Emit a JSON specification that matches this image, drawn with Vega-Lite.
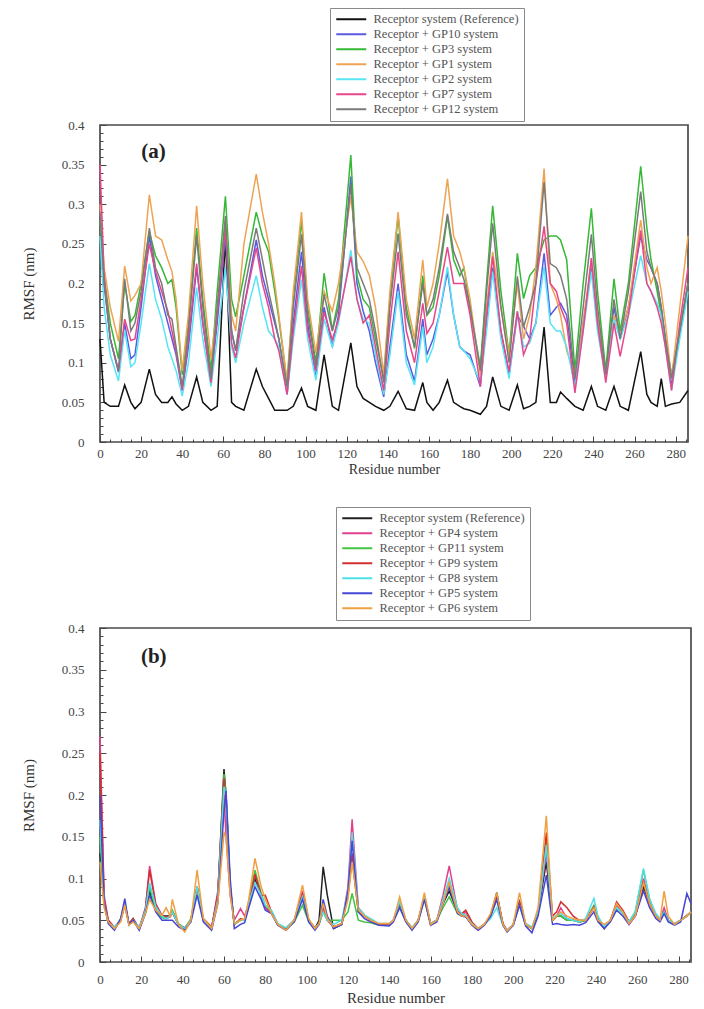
{
  "$schema": "https://vega.github.io/schema/vega-lite/v6.json",
  "background": "white",
  "padding": {"left": 20, "top": 6, "right": 4, "bottom": 2},
  "spacing": 28,
  "config": {
    "view": {"stroke": "#4a4a4a", "strokeWidth": 1.7},
    "axis": {"domain": false, "grid": false, "tickColor": "#444", "tickWidth": 1, "labelFont": "Liberation Serif", "labelFontSize": 13, "labelColor": "#444", "labelFlush": false, "labelOverlap": false, "titleFont": "Liberation Serif", "titleFontSize": 15, "titleFontWeight": "normal", "titleColor": "#333"},
    "legend": {"orient": "none", "title": null, "padding": 5, "strokeColor": "#8a8a8a", "fillColor": "white", "symbolType": "M-3,0H3", "symbolSize": 100, "symbolStrokeWidth": 2, "symbolOffset": 10, "labelOffset": 16, "labelFont": "Liberation Serif", "labelFontSize": 12.5, "labelColor": "#555", "labelLimit": 0, "rowPadding": 2}
  },
  "datasets": {
    "a": [
      {"r":0,"ref":0.13,"g10":0.30,"g3":0.28,"g1":0.30,"g2":0.26,"g7":0.35,"g12":0.29},
      {"r":2,"ref":0.05,"g10":0.20,"g3":0.21,"g1":0.22,"g2":0.17,"g7":0.21,"g12":0.20},
      {"r":5,"ref":0.045,"g10":0.13,"g3":0.15,"g1":0.17,"g2":0.11,"g7":0.13,"g12":0.13},
      {"r":9,"ref":0.045,"g10":0.088,"g3":0.105,"g1":0.127,"g2":0.077,"g7":0.09,"g12":0.09},
      {"r":12,"ref":0.072,"g10":0.15,"g3":0.20,"g1":0.222,"g2":0.141,"g7":0.155,"g12":0.206},
      {"r":15,"ref":0.05,"g10":0.105,"g3":0.152,"g1":0.178,"g2":0.095,"g7":0.128,"g12":0.14},
      {"r":17,"ref":0.042,"g10":0.11,"g3":0.16,"g1":0.185,"g2":0.10,"g7":0.13,"g12":0.15},
      {"r":20,"ref":0.05,"g10":0.17,"g3":0.20,"g1":0.20,"g2":0.15,"g7":0.18,"g12":0.19},
      {"r":24,"ref":0.092,"g10":0.26,"g3":0.265,"g1":0.312,"g2":0.225,"g7":0.25,"g12":0.27},
      {"r":27,"ref":0.06,"g10":0.21,"g3":0.235,"g1":0.26,"g2":0.18,"g7":0.215,"g12":0.22},
      {"r":30,"ref":0.05,"g10":0.18,"g3":0.22,"g1":0.255,"g2":0.155,"g7":0.19,"g12":0.20},
      {"r":33,"ref":0.05,"g10":0.15,"g3":0.20,"g1":0.23,"g2":0.12,"g7":0.165,"g12":0.16},
      {"r":35,"ref":0.057,"g10":0.13,"g3":0.205,"g1":0.215,"g2":0.105,"g7":0.14,"g12":0.155},
      {"r":37,"ref":0.048,"g10":0.11,"g3":0.17,"g1":0.18,"g2":0.09,"g7":0.115,"g12":0.12},
      {"r":40,"ref":0.04,"g10":0.065,"g3":0.085,"g1":0.09,"g2":0.058,"g7":0.065,"g12":0.07},
      {"r":43,"ref":0.045,"g10":0.12,"g3":0.15,"g1":0.16,"g2":0.10,"g7":0.13,"g12":0.14},
      {"r":47,"ref":0.082,"g10":0.22,"g3":0.27,"g1":0.298,"g2":0.195,"g7":0.225,"g12":0.26},
      {"r":50,"ref":0.05,"g10":0.15,"g3":0.18,"g1":0.20,"g2":0.13,"g7":0.15,"g12":0.17},
      {"r":54,"ref":0.04,"g10":0.078,"g3":0.09,"g1":0.105,"g2":0.07,"g7":0.075,"g12":0.08},
      {"r":57,"ref":0.045,"g10":0.15,"g3":0.19,"g1":0.17,"g2":0.13,"g7":0.16,"g12":0.17},
      {"r":61,"ref":0.26,"g10":0.26,"g3":0.31,"g1":0.28,"g2":0.22,"g7":0.27,"g12":0.285},
      {"r":64,"ref":0.05,"g10":0.14,"g3":0.18,"g1":0.16,"g2":0.12,"g7":0.125,"g12":0.14},
      {"r":66,"ref":0.045,"g10":0.115,"g3":0.158,"g1":0.14,"g2":0.10,"g7":0.106,"g12":0.116},
      {"r":70,"ref":0.04,"g10":0.17,"g3":0.21,"g1":0.25,"g2":0.15,"g7":0.17,"g12":0.19},
      {"r":76,"ref":0.092,"g10":0.255,"g3":0.29,"g1":0.338,"g2":0.21,"g7":0.245,"g12":0.27},
      {"r":79,"ref":0.07,"g10":0.21,"g3":0.26,"g1":0.29,"g2":0.17,"g7":0.20,"g12":0.23},
      {"r":82,"ref":0.055,"g10":0.18,"g3":0.24,"g1":0.25,"g2":0.14,"g7":0.17,"g12":0.19},
      {"r":85,"ref":0.04,"g10":0.15,"g3":0.19,"g1":0.20,"g2":0.13,"g7":0.13,"g12":0.155},
      {"r":87,"ref":0.04,"g10":0.13,"g3":0.155,"g1":0.16,"g2":0.12,"g7":0.115,"g12":0.13},
      {"r":91,"ref":0.04,"g10":0.06,"g3":0.075,"g1":0.075,"g2":0.06,"g7":0.06,"g12":0.07},
      {"r":94,"ref":0.045,"g10":0.15,"g3":0.18,"g1":0.19,"g2":0.13,"g7":0.14,"g12":0.17},
      {"r":98,"ref":0.068,"g10":0.24,"g3":0.28,"g1":0.29,"g2":0.205,"g7":0.222,"g12":0.262},
      {"r":101,"ref":0.045,"g10":0.15,"g3":0.17,"g1":0.18,"g2":0.13,"g7":0.14,"g12":0.16},
      {"r":105,"ref":0.04,"g10":0.08,"g3":0.10,"g1":0.112,"g2":0.078,"g7":0.09,"g12":0.095},
      {"r":109,"ref":0.11,"g10":0.17,"g3":0.213,"g1":0.19,"g2":0.155,"g7":0.164,"g12":0.186},
      {"r":113,"ref":0.045,"g10":0.12,"g3":0.141,"g1":0.165,"g2":0.12,"g7":0.129,"g12":0.14},
      {"r":116,"ref":0.04,"g10":0.16,"g3":0.18,"g1":0.20,"g2":0.15,"g7":0.155,"g12":0.17},
      {"r":122,"ref":0.125,"g10":0.335,"g3":0.362,"g1":0.31,"g2":0.242,"g7":0.234,"g12":0.325},
      {"r":125,"ref":0.07,"g10":0.20,"g3":0.21,"g1":0.24,"g2":0.18,"g7":0.18,"g12":0.22},
      {"r":128,"ref":0.055,"g10":0.165,"g3":0.18,"g1":0.228,"g2":0.155,"g7":0.15,"g12":0.20},
      {"r":131,"ref":0.05,"g10":0.14,"g3":0.17,"g1":0.21,"g2":0.15,"g7":0.16,"g12":0.18},
      {"r":134,"ref":0.045,"g10":0.10,"g3":0.13,"g1":0.17,"g2":0.11,"g7":0.12,"g12":0.14},
      {"r":138,"ref":0.04,"g10":0.057,"g3":0.08,"g1":0.085,"g2":0.06,"g7":0.065,"g12":0.075},
      {"r":141,"ref":0.045,"g10":0.12,"g3":0.18,"g1":0.19,"g2":0.11,"g7":0.15,"g12":0.17},
      {"r":145,"ref":0.064,"g10":0.20,"g3":0.285,"g1":0.29,"g2":0.19,"g7":0.24,"g12":0.263},
      {"r":149,"ref":0.042,"g10":0.11,"g3":0.17,"g1":0.18,"g2":0.10,"g7":0.14,"g12":0.16},
      {"r":153,"ref":0.04,"g10":0.077,"g3":0.118,"g1":0.13,"g2":0.072,"g7":0.10,"g12":0.12},
      {"r":157,"ref":0.075,"g10":0.155,"g3":0.21,"g1":0.23,"g2":0.145,"g7":0.175,"g12":0.20},
      {"r":159,"ref":0.05,"g10":0.11,"g3":0.16,"g1":0.17,"g2":0.10,"g7":0.137,"g12":0.16},
      {"r":162,"ref":0.04,"g10":0.13,"g3":0.17,"g1":0.20,"g2":0.12,"g7":0.15,"g12":0.18},
      {"r":165,"ref":0.05,"g10":0.16,"g3":0.21,"g1":0.25,"g2":0.16,"g7":0.19,"g12":0.22},
      {"r":169,"ref":0.078,"g10":0.215,"g3":0.285,"g1":0.332,"g2":0.221,"g7":0.246,"g12":0.288},
      {"r":172,"ref":0.05,"g10":0.16,"g3":0.23,"g1":0.26,"g2":0.16,"g7":0.20,"g12":0.24},
      {"r":175,"ref":0.045,"g10":0.12,"g3":0.21,"g1":0.24,"g2":0.12,"g7":0.20,"g12":0.22},
      {"r":177,"ref":0.042,"g10":0.115,"g3":0.22,"g1":0.22,"g2":0.115,"g7":0.20,"g12":0.205},
      {"r":180,"ref":0.04,"g10":0.11,"g3":0.17,"g1":0.18,"g2":0.105,"g7":0.16,"g12":0.17},
      {"r":185,"ref":0.035,"g10":0.07,"g3":0.095,"g1":0.085,"g2":0.075,"g7":0.07,"g12":0.09},
      {"r":188,"ref":0.045,"g10":0.15,"g3":0.20,"g1":0.17,"g2":0.14,"g7":0.16,"g12":0.19},
      {"r":191,"ref":0.082,"g10":0.22,"g3":0.298,"g1":0.24,"g2":0.215,"g7":0.234,"g12":0.276},
      {"r":195,"ref":0.045,"g10":0.14,"g3":0.19,"g1":0.17,"g2":0.13,"g7":0.14,"g12":0.17},
      {"r":199,"ref":0.04,"g10":0.085,"g3":0.11,"g1":0.11,"g2":0.08,"g7":0.089,"g12":0.10},
      {"r":203,"ref":0.072,"g10":0.16,"g3":0.238,"g1":0.20,"g2":0.165,"g7":0.165,"g12":0.209},
      {"r":206,"ref":0.042,"g10":0.146,"g3":0.181,"g1":0.13,"g2":0.12,"g7":0.11,"g12":0.145},
      {"r":209,"ref":0.045,"g10":0.13,"g3":0.21,"g1":0.16,"g2":0.125,"g7":0.13,"g12":0.17},
      {"r":212,"ref":0.05,"g10":0.15,"g3":0.22,"g1":0.22,"g2":0.15,"g7":0.20,"g12":0.20},
      {"r":216,"ref":0.145,"g10":0.238,"g3":0.255,"g1":0.345,"g2":0.221,"g7":0.272,"g12":0.328},
      {"r":219,"ref":0.05,"g10":0.16,"g3":0.26,"g1":0.20,"g2":0.15,"g7":0.20,"g12":0.225},
      {"r":222,"ref":0.05,"g10":0.17,"g3":0.26,"g1":0.18,"g2":0.14,"g7":0.19,"g12":0.22},
      {"r":224,"ref":0.063,"g10":0.175,"g3":0.255,"g1":0.16,"g2":0.14,"g7":0.17,"g12":0.21},
      {"r":227,"ref":0.055,"g10":0.16,"g3":0.23,"g1":0.115,"g2":0.12,"g7":0.15,"g12":0.18},
      {"r":231,"ref":0.045,"g10":0.075,"g3":0.09,"g1":0.085,"g2":0.07,"g7":0.062,"g12":0.08},
      {"r":235,"ref":0.04,"g10":0.15,"g3":0.20,"g1":0.15,"g2":0.14,"g7":0.14,"g12":0.17},
      {"r":239,"ref":0.07,"g10":0.22,"g3":0.295,"g1":0.23,"g2":0.215,"g7":0.232,"g12":0.262},
      {"r":242,"ref":0.045,"g10":0.15,"g3":0.19,"g1":0.16,"g2":0.14,"g7":0.15,"g12":0.17},
      {"r":246,"ref":0.04,"g10":0.085,"g3":0.09,"g1":0.085,"g2":0.08,"g7":0.075,"g12":0.085},
      {"r":250,"ref":0.07,"g10":0.17,"g3":0.206,"g1":0.16,"g2":0.155,"g7":0.15,"g12":0.18},
      {"r":253,"ref":0.045,"g10":0.13,"g3":0.14,"g1":0.135,"g2":0.13,"g7":0.108,"g12":0.13},
      {"r":257,"ref":0.04,"g10":0.17,"g3":0.20,"g1":0.17,"g2":0.16,"g7":0.16,"g12":0.19},
      {"r":263,"ref":0.114,"g10":0.26,"g3":0.348,"g1":0.28,"g2":0.235,"g7":0.267,"g12":0.316},
      {"r":266,"ref":0.06,"g10":0.23,"g3":0.27,"g1":0.22,"g2":0.20,"g7":0.20,"g12":0.24},
      {"r":268,"ref":0.05,"g10":0.22,"g3":0.23,"g1":0.20,"g2":0.19,"g7":0.19,"g12":0.22},
      {"r":271,"ref":0.045,"g10":0.20,"g3":0.19,"g1":0.22,"g2":0.175,"g7":0.17,"g12":0.20},
      {"r":273,"ref":0.08,"g10":0.17,"g3":0.16,"g1":0.19,"g2":0.16,"g7":0.15,"g12":0.17},
      {"r":275,"ref":0.045,"g10":0.13,"g3":0.13,"g1":0.15,"g2":0.12,"g7":0.12,"g12":0.13},
      {"r":278,"ref":0.048,"g10":0.07,"g3":0.085,"g1":0.08,"g2":0.065,"g7":0.065,"g12":0.08},
      {"r":282,"ref":0.05,"g10":0.14,"g3":0.14,"g1":0.17,"g2":0.13,"g7":0.15,"g12":0.14},
      {"r":286,"ref":0.065,"g10":0.20,"g3":0.20,"g1":0.26,"g2":0.19,"g7":0.22,"g12":0.20}
    ],
    "b": [
      {"r":0,"ref":0.13,"g4":0.27,"g11":0.15,"g9":0.25,"g8":0.17,"g5":0.20,"g6":0.12},
      {"r":2,"ref":0.07,"g4":0.08,"g11":0.07,"g9":0.075,"g8":0.07,"g5":0.07,"g6":0.065},
      {"r":4,"ref":0.048,"g4":0.05,"g11":0.048,"g9":0.05,"g8":0.047,"g5":0.046,"g6":0.048},
      {"r":7,"ref":0.04,"g4":0.042,"g11":0.04,"g9":0.041,"g8":0.042,"g5":0.038,"g6":0.04},
      {"r":10,"ref":0.05,"g4":0.05,"g11":0.052,"g9":0.05,"g8":0.05,"g5":0.052,"g6":0.048},
      {"r":12,"ref":0.07,"g4":0.07,"g11":0.07,"g9":0.068,"g8":0.072,"g5":0.076,"g6":0.068},
      {"r":14,"ref":0.045,"g4":0.046,"g11":0.045,"g9":0.046,"g8":0.044,"g5":0.045,"g6":0.044},
      {"r":16,"ref":0.052,"g4":0.05,"g11":0.05,"g9":0.052,"g8":0.05,"g5":0.05,"g6":0.048},
      {"r":19,"ref":0.04,"g4":0.041,"g11":0.04,"g9":0.04,"g8":0.041,"g5":0.038,"g6":0.04},
      {"r":22,"ref":0.06,"g4":0.065,"g11":0.06,"g9":0.064,"g8":0.062,"g5":0.058,"g6":0.058},
      {"r":24,"ref":0.085,"g4":0.115,"g11":0.09,"g9":0.11,"g8":0.095,"g5":0.08,"g6":0.075},
      {"r":27,"ref":0.062,"g4":0.07,"g11":0.062,"g9":0.068,"g8":0.066,"g5":0.06,"g6":0.062},
      {"r":30,"ref":0.055,"g4":0.056,"g11":0.053,"g9":0.055,"g8":0.055,"g5":0.05,"g6":0.056},
      {"r":32,"ref":0.055,"g4":0.052,"g11":0.052,"g9":0.054,"g8":0.052,"g5":0.05,"g6":0.065},
      {"r":34,"ref":0.055,"g4":0.054,"g11":0.056,"g9":0.055,"g8":0.055,"g5":0.05,"g6":0.055},
      {"r":35,"ref":0.06,"g4":0.06,"g11":0.062,"g9":0.06,"g8":0.06,"g5":0.05,"g6":0.075},
      {"r":38,"ref":0.045,"g4":0.045,"g11":0.046,"g9":0.045,"g8":0.045,"g5":0.042,"g6":0.045},
      {"r":41,"ref":0.04,"g4":0.041,"g11":0.04,"g9":0.04,"g8":0.04,"g5":0.038,"g6":0.036},
      {"r":44,"ref":0.05,"g4":0.05,"g11":0.052,"g9":0.05,"g8":0.05,"g5":0.048,"g6":0.05},
      {"r":47,"ref":0.09,"g4":0.088,"g11":0.09,"g9":0.09,"g8":0.09,"g5":0.08,"g6":0.11},
      {"r":50,"ref":0.05,"g4":0.05,"g11":0.05,"g9":0.052,"g8":0.05,"g5":0.048,"g6":0.052},
      {"r":54,"ref":0.04,"g4":0.04,"g11":0.04,"g9":0.042,"g8":0.04,"g5":0.038,"g6":0.04},
      {"r":57,"ref":0.08,"g4":0.085,"g11":0.075,"g9":0.08,"g8":0.075,"g5":0.07,"g6":0.07},
      {"r":60,"ref":0.231,"g4":0.20,"g11":0.225,"g9":0.22,"g8":0.21,"g5":0.18,"g6":0.155},
      {"r":61,"ref":0.20,"g4":0.15,"g11":0.20,"g9":0.19,"g8":0.20,"g5":0.205,"g6":0.15},
      {"r":63,"ref":0.09,"g4":0.08,"g11":0.09,"g9":0.09,"g8":0.09,"g5":0.10,"g6":0.08},
      {"r":65,"ref":0.045,"g4":0.05,"g11":0.046,"g9":0.045,"g8":0.045,"g5":0.04,"g6":0.046},
      {"r":68,"ref":0.05,"g4":0.064,"g11":0.05,"g9":0.052,"g8":0.05,"g5":0.045,"g6":0.05},
      {"r":70,"ref":0.05,"g4":0.055,"g11":0.05,"g9":0.05,"g8":0.05,"g5":0.047,"g6":0.052},
      {"r":72,"ref":0.07,"g4":0.07,"g11":0.072,"g9":0.07,"g8":0.07,"g5":0.065,"g6":0.075},
      {"r":75,"ref":0.10,"g4":0.105,"g11":0.11,"g9":0.105,"g8":0.095,"g5":0.09,"g6":0.124},
      {"r":78,"ref":0.08,"g4":0.08,"g11":0.082,"g9":0.08,"g8":0.08,"g5":0.075,"g6":0.09},
      {"r":80,"ref":0.065,"g4":0.065,"g11":0.068,"g9":0.08,"g8":0.068,"g5":0.062,"g6":0.075},
      {"r":83,"ref":0.06,"g4":0.058,"g11":0.06,"g9":0.06,"g8":0.062,"g5":0.058,"g6":0.058},
      {"r":86,"ref":0.045,"g4":0.045,"g11":0.046,"g9":0.045,"g8":0.046,"g5":0.044,"g6":0.045},
      {"r":90,"ref":0.04,"g4":0.04,"g11":0.04,"g9":0.04,"g8":0.041,"g5":0.038,"g6":0.038},
      {"r":94,"ref":0.05,"g4":0.05,"g11":0.048,"g9":0.05,"g8":0.05,"g5":0.048,"g6":0.05},
      {"r":98,"ref":0.08,"g4":0.085,"g11":0.068,"g9":0.08,"g8":0.078,"g5":0.075,"g6":0.092},
      {"r":101,"ref":0.05,"g4":0.05,"g11":0.048,"g9":0.05,"g8":0.05,"g5":0.048,"g6":0.052},
      {"r":104,"ref":0.04,"g4":0.04,"g11":0.04,"g9":0.041,"g8":0.04,"g5":0.038,"g6":0.04},
      {"r":106,"ref":0.05,"g4":0.045,"g11":0.045,"g9":0.046,"g8":0.046,"g5":0.045,"g6":0.046},
      {"r":108,"ref":0.114,"g4":0.065,"g11":0.06,"g9":0.062,"g8":0.06,"g5":0.075,"g6":0.07},
      {"r":110,"ref":0.08,"g4":0.052,"g11":0.05,"g9":0.05,"g8":0.05,"g5":0.055,"g6":0.052},
      {"r":113,"ref":0.04,"g4":0.042,"g11":0.05,"g9":0.042,"g8":0.045,"g5":0.04,"g6":0.042},
      {"r":117,"ref":0.045,"g4":0.046,"g11":0.05,"g9":0.046,"g8":0.05,"g5":0.045,"g6":0.046},
      {"r":120,"ref":0.08,"g4":0.09,"g11":0.06,"g9":0.08,"g8":0.085,"g5":0.085,"g6":0.075},
      {"r":122,"ref":0.125,"g4":0.171,"g11":0.082,"g9":0.13,"g8":0.155,"g5":0.145,"g6":0.12},
      {"r":125,"ref":0.06,"g4":0.065,"g11":0.05,"g9":0.065,"g8":0.065,"g5":0.06,"g6":0.062},
      {"r":128,"ref":0.055,"g4":0.055,"g11":0.048,"g9":0.056,"g8":0.056,"g5":0.052,"g6":0.055},
      {"r":131,"ref":0.05,"g4":0.05,"g11":0.047,"g9":0.05,"g8":0.052,"g5":0.048,"g6":0.05},
      {"r":135,"ref":0.045,"g4":0.045,"g11":0.044,"g9":0.045,"g8":0.046,"g5":0.044,"g6":0.046},
      {"r":140,"ref":0.045,"g4":0.046,"g11":0.045,"g9":0.045,"g8":0.046,"g5":0.043,"g6":0.046},
      {"r":142,"ref":0.05,"g4":0.05,"g11":0.05,"g9":0.05,"g8":0.05,"g5":0.048,"g6":0.05},
      {"r":145,"ref":0.07,"g4":0.07,"g11":0.068,"g9":0.07,"g8":0.072,"g5":0.065,"g6":0.078},
      {"r":148,"ref":0.05,"g4":0.05,"g11":0.05,"g9":0.05,"g8":0.05,"g5":0.048,"g6":0.05},
      {"r":151,"ref":0.04,"g4":0.041,"g11":0.04,"g9":0.04,"g8":0.041,"g5":0.038,"g6":0.04},
      {"r":154,"ref":0.05,"g4":0.05,"g11":0.05,"g9":0.05,"g8":0.05,"g5":0.048,"g6":0.05},
      {"r":157,"ref":0.078,"g4":0.078,"g11":0.075,"g9":0.078,"g8":0.078,"g5":0.075,"g6":0.083},
      {"r":160,"ref":0.045,"g4":0.046,"g11":0.045,"g9":0.046,"g8":0.046,"g5":0.044,"g6":0.045},
      {"r":163,"ref":0.05,"g4":0.05,"g11":0.05,"g9":0.05,"g8":0.05,"g5":0.048,"g6":0.05},
      {"r":166,"ref":0.07,"g4":0.08,"g11":0.065,"g9":0.07,"g8":0.075,"g5":0.07,"g6":0.07},
      {"r":169,"ref":0.085,"g4":0.115,"g11":0.078,"g9":0.095,"g8":0.10,"g5":0.09,"g6":0.095},
      {"r":173,"ref":0.06,"g4":0.062,"g11":0.058,"g9":0.06,"g8":0.065,"g5":0.058,"g6":0.06},
      {"r":175,"ref":0.055,"g4":0.056,"g11":0.055,"g9":0.058,"g8":0.058,"g5":0.055,"g6":0.055},
      {"r":177,"ref":0.055,"g4":0.06,"g11":0.055,"g9":0.062,"g8":0.056,"g5":0.054,"g6":0.055},
      {"r":180,"ref":0.045,"g4":0.045,"g11":0.045,"g9":0.048,"g8":0.046,"g5":0.044,"g6":0.045},
      {"r":183,"ref":0.04,"g4":0.04,"g11":0.04,"g9":0.04,"g8":0.04,"g5":0.038,"g6":0.04},
      {"r":186,"ref":0.045,"g4":0.045,"g11":0.045,"g9":0.045,"g8":0.045,"g5":0.044,"g6":0.045},
      {"r":189,"ref":0.055,"g4":0.055,"g11":0.055,"g9":0.055,"g8":0.052,"g5":0.055,"g6":0.058},
      {"r":192,"ref":0.083,"g4":0.078,"g11":0.075,"g9":0.08,"g8":0.065,"g5":0.075,"g6":0.083},
      {"r":195,"ref":0.045,"g4":0.045,"g11":0.045,"g9":0.046,"g8":0.044,"g5":0.044,"g6":0.045},
      {"r":197,"ref":0.037,"g4":0.038,"g11":0.037,"g9":0.038,"g8":0.038,"g5":0.036,"g6":0.037},
      {"r":200,"ref":0.045,"g4":0.045,"g11":0.045,"g9":0.045,"g8":0.045,"g5":0.044,"g6":0.045},
      {"r":203,"ref":0.072,"g4":0.07,"g11":0.07,"g9":0.072,"g8":0.068,"g5":0.068,"g6":0.083},
      {"r":206,"ref":0.045,"g4":0.045,"g11":0.045,"g9":0.046,"g8":0.046,"g5":0.043,"g6":0.045},
      {"r":209,"ref":0.04,"g4":0.04,"g11":0.04,"g9":0.041,"g8":0.042,"g5":0.035,"g6":0.04},
      {"r":212,"ref":0.06,"g4":0.06,"g11":0.06,"g9":0.06,"g8":0.06,"g5":0.055,"g6":0.065},
      {"r":216,"ref":0.12,"g4":0.13,"g11":0.145,"g9":0.155,"g8":0.14,"g5":0.104,"g6":0.175},
      {"r":219,"ref":0.05,"g4":0.05,"g11":0.05,"g9":0.055,"g8":0.052,"g5":0.045,"g6":0.05},
      {"r":221,"ref":0.055,"g4":0.055,"g11":0.055,"g9":0.06,"g8":0.056,"g5":0.046,"g6":0.055},
      {"r":223,"ref":0.055,"g4":0.065,"g11":0.055,"g9":0.072,"g8":0.058,"g5":0.045,"g6":0.06},
      {"r":226,"ref":0.05,"g4":0.052,"g11":0.05,"g9":0.065,"g8":0.052,"g5":0.044,"g6":0.055},
      {"r":229,"ref":0.05,"g4":0.05,"g11":0.05,"g9":0.055,"g8":0.05,"g5":0.045,"g6":0.052},
      {"r":232,"ref":0.048,"g4":0.048,"g11":0.048,"g9":0.05,"g8":0.048,"g5":0.044,"g6":0.05},
      {"r":235,"ref":0.05,"g4":0.05,"g11":0.05,"g9":0.05,"g8":0.052,"g5":0.047,"g6":0.05},
      {"r":239,"ref":0.065,"g4":0.065,"g11":0.068,"g9":0.066,"g8":0.076,"g5":0.06,"g6":0.065},
      {"r":241,"ref":0.05,"g4":0.05,"g11":0.05,"g9":0.05,"g8":0.055,"g5":0.048,"g6":0.05},
      {"r":244,"ref":0.04,"g4":0.04,"g11":0.04,"g9":0.042,"g8":0.042,"g5":0.04,"g6":0.045},
      {"r":247,"ref":0.05,"g4":0.05,"g11":0.05,"g9":0.05,"g8":0.05,"g5":0.048,"g6":0.05},
      {"r":250,"ref":0.068,"g4":0.068,"g11":0.065,"g9":0.072,"g8":0.065,"g5":0.062,"g6":0.07},
      {"r":253,"ref":0.06,"g4":0.06,"g11":0.058,"g9":0.062,"g8":0.058,"g5":0.055,"g6":0.06},
      {"r":256,"ref":0.048,"g4":0.045,"g11":0.048,"g9":0.048,"g8":0.048,"g5":0.045,"g6":0.046},
      {"r":259,"ref":0.055,"g4":0.055,"g11":0.06,"g9":0.055,"g8":0.06,"g5":0.055,"g6":0.055},
      {"r":263,"ref":0.09,"g4":0.10,"g11":0.11,"g9":0.095,"g8":0.112,"g5":0.085,"g6":0.095},
      {"r":266,"ref":0.07,"g4":0.07,"g11":0.075,"g9":0.07,"g8":0.075,"g5":0.065,"g6":0.07},
      {"r":269,"ref":0.055,"g4":0.055,"g11":0.055,"g9":0.055,"g8":0.058,"g5":0.052,"g6":0.055},
      {"r":271,"ref":0.05,"g4":0.05,"g11":0.05,"g9":0.05,"g8":0.052,"g5":0.048,"g6":0.05},
      {"r":273,"ref":0.06,"g4":0.065,"g11":0.06,"g9":0.06,"g8":0.06,"g5":0.058,"g6":0.085},
      {"r":275,"ref":0.05,"g4":0.05,"g11":0.05,"g9":0.05,"g8":0.05,"g5":0.048,"g6":0.055},
      {"r":278,"ref":0.045,"g4":0.046,"g11":0.045,"g9":0.045,"g8":0.046,"g5":0.044,"g6":0.045},
      {"r":281,"ref":0.05,"g4":0.05,"g11":0.05,"g9":0.05,"g8":0.05,"g5":0.048,"g6":0.05},
      {"r":284,"ref":0.055,"g4":0.055,"g11":0.055,"g9":0.056,"g8":0.055,"g5":0.082,"g6":0.055},
      {"r":286,"ref":0.06,"g4":0.06,"g11":0.06,"g9":0.06,"g8":0.06,"g5":0.07,"g6":0.06}
    ]
  },
  "resolve": {"scale": {"color": "independent"}, "legend": {"color": "independent"}},
  "vconcat": [
    {
      "width": 588,
      "height": 317,
      "resolve": {"axis": {"x": "independent", "y": "independent"}},
      "layer": [
        {
          "data": {"name": "a"},
          "transform": [{"fold": ["ref", "g10", "g3", "g1", "g2", "g7", "g12"], "as": ["s", "v"]}],
          "mark": {"type": "line", "strokeWidth": 1.5},
          "encoding": {
            "x": {"field": "r", "type": "quantitative", "scale": {"domain": [0, 286], "nice": false, "zero": false},
              "axis": {"orient": "bottom", "values": [0,20,40,60,80,100,120,140,160,180,200,220,240,260,280], "tickSize": -6, "labelPadding": 11, "title": "Residue number", "titlePadding": 2, "titleFontSize": 14}},
            "y": {"field": "v", "type": "quantitative", "scale": {"domain": [0, 0.4], "nice": false},
              "axis": {"orient": "left", "values": [0,0.05,0.1,0.15,0.2,0.25,0.3,0.35,0.4], "format": "~g", "tickSize": -6, "labelPadding": 22, "title": "RMSF (nm)", "titlePadding": 25}},
            "color": {"field": "s", "type": "nominal",
              "scale": {"domain": ["ref", "g10", "g3", "g1", "g2", "g7", "g12"], "range": ["#111111", "#5a5ae0", "#35b835", "#eea352", "#55e5f5", "#e8468a", "#7a7a7a"]},
              "legend": {"legendX": 230, "legendY": -117,
                "labelExpr": "['Receptor system (Reference)','Receptor + GP10 system','Receptor + GP3 system','Receptor + GP1 system','Receptor + GP2 system','Receptor + GP7 system','Receptor + GP12 system'][indexof(['ref','g10','g3','g1','g2','g7','g12'], datum.label)]"}}
          }
        },
        {
          "data": {"values": [{"label": "(a)"}]},
          "mark": {"type": "text", "font": "Liberation Serif", "fontSize": 21, "fontWeight": "bold", "color": "#222"},
          "encoding": {
            "x": {"datum": 26, "type": "quantitative", "scale": {"domain": [0, 286], "nice": false, "zero": false},
              "axis": {"orient": "bottom", "values": [5,10,15,25,30,35,45,50,55,65,70,75,85,90,95,105,110,115,125,130,135,145,150,155,165,170,175,185,190,195,205,210,215,225,230,235,245,250,255,265,270,275,285], "tickSize": -3, "labels": false, "title": null}},
            "y": {"datum": 0.366, "type": "quantitative", "scale": {"domain": [0, 0.4], "nice": false},
              "axis": {"orient": "left", "values": [0.01,0.02,0.03,0.04,0.06,0.07,0.08,0.09,0.11,0.12,0.13,0.14,0.16,0.17,0.18,0.19,0.21,0.22,0.23,0.24,0.26,0.27,0.28,0.29,0.31,0.32,0.33,0.34,0.36,0.37,0.38,0.39], "tickSize": -3, "labels": false, "title": null}},
            "text": {"field": "label"}
          }
        }
      ]
    },
    {
      "width": 591,
      "height": 334,
      "resolve": {"axis": {"x": "independent", "y": "independent"}},
      "layer": [
        {
          "data": {"name": "b"},
          "transform": [{"fold": ["ref", "g4", "g11", "g9", "g8", "g5", "g6"], "as": ["s", "v"]}],
          "mark": {"type": "line", "strokeWidth": 1.5},
          "encoding": {
            "x": {"field": "r", "type": "quantitative", "scale": {"domain": [0, 286], "nice": false, "zero": false},
              "axis": {"orient": "bottom", "values": [0,20,40,60,80,100,120,140,160,180,200,220,240,260,280], "tickSize": -6, "labelPadding": 17, "title": "Residue number", "titlePadding": 4}},
            "y": {"field": "v", "type": "quantitative", "scale": {"domain": [0, 0.4], "nice": false},
              "axis": {"orient": "left", "values": [0,0.05,0.1,0.15,0.2,0.25,0.3,0.35,0.4], "format": "~g", "tickSize": -6, "labelPadding": 22, "title": "RMSF (nm)", "titlePadding": 25}},
            "color": {"field": "s", "type": "nominal",
              "scale": {"domain": ["ref", "g4", "g11", "g9", "g8", "g5", "g6"], "range": ["#222222", "#e2408e", "#42c442", "#d23030", "#4ee0e8", "#4646d6", "#f0a040"]},
              "legend": {"legendX": 236, "legendY": -121,
                "labelExpr": "['Receptor system (Reference)','Receptor + GP4 system','Receptor + GP11 system','Receptor + GP9 system','Receptor + GP8 system','Receptor + GP5 system','Receptor + GP6 system'][indexof(['ref','g4','g11','g9','g8','g5','g6'], datum.label)]"}}
          }
        },
        {
          "data": {"values": [{"label": "(b)"}]},
          "mark": {"type": "text", "font": "Liberation Serif", "fontSize": 21, "fontWeight": "bold", "color": "#222"},
          "encoding": {
            "x": {"datum": 26, "type": "quantitative", "scale": {"domain": [0, 286], "nice": false, "zero": false},
              "axis": {"orient": "bottom", "values": [5,10,15,25,30,35,45,50,55,65,70,75,85,90,95,105,110,115,125,130,135,145,150,155,165,170,175,185,190,195,205,210,215,225,230,235,245,250,255,265,270,275,285], "tickSize": -3, "labels": false, "title": null}},
            "y": {"datum": 0.365, "type": "quantitative", "scale": {"domain": [0, 0.4], "nice": false},
              "axis": {"orient": "left", "values": [0.01,0.02,0.03,0.04,0.06,0.07,0.08,0.09,0.11,0.12,0.13,0.14,0.16,0.17,0.18,0.19,0.21,0.22,0.23,0.24,0.26,0.27,0.28,0.29,0.31,0.32,0.33,0.34,0.36,0.37,0.38,0.39], "tickSize": -3, "labels": false, "title": null}},
            "text": {"field": "label"}
          }
        }
      ]
    }
  ]
}
